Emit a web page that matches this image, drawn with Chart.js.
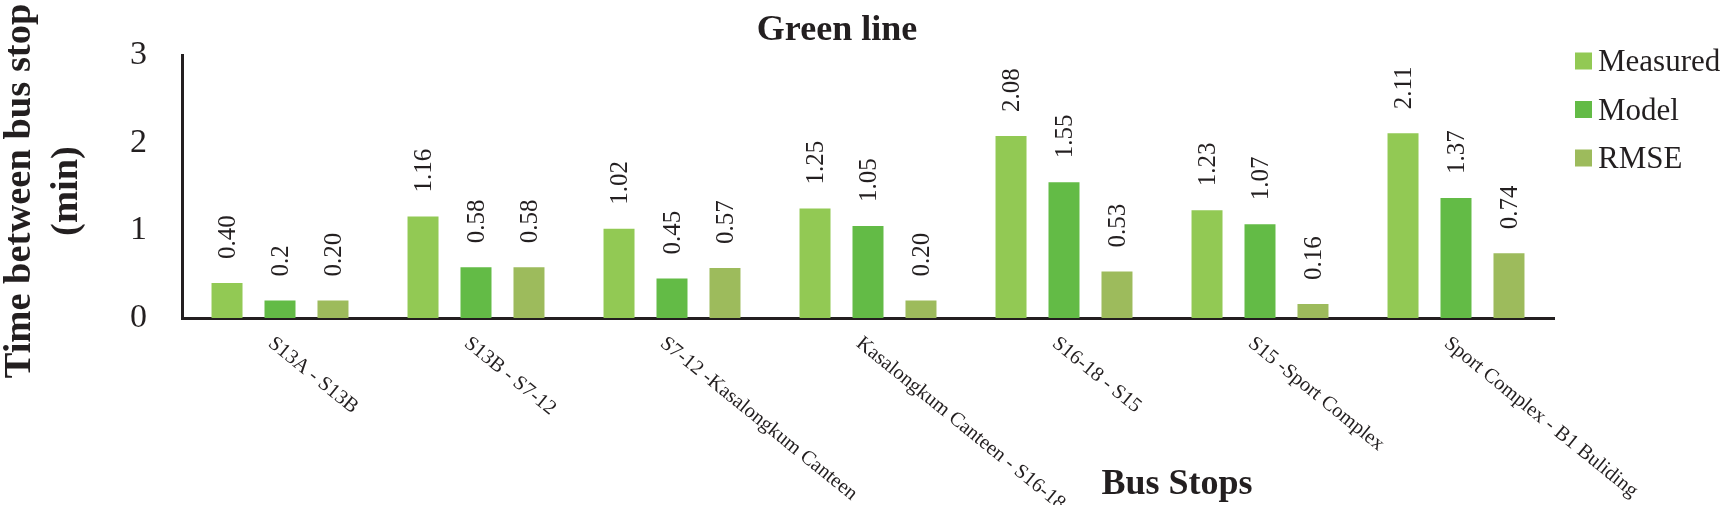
<!DOCTYPE html>
<html>
<head>
<meta charset="utf-8">
<script src="https://cdn.jsdelivr.net/npm/chart.js@4.4.0/dist/chart.umd.min.js"></script>
<style>
  body { margin: 0; background: #ffffff; }
  canvas { display: block; }
</style>
</head>
<body>
<canvas id="busChart" width="1723" height="505"></canvas>
<script>
const stops = [
    "S13A - S13B",
    "S13B - S7-12",
    "S7-12 -Kasalongkum Canteen",
    "Kasalongkum Canteen - S16-18",
    "S16-18 - S15",
    "S15 -Sport Complex",
    "Sport Complex - B1 Buliding"
];

const measured = [0.40, 1.16, 1.02, 1.25, 2.08, 1.23, 2.11];
const model = [0.2, 0.58, 0.45, 1.05, 1.55, 1.07, 1.37];
const rmse = [0.20, 0.58, 0.57, 0.20, 0.53, 0.16, 0.74];

// value labels as printed on the chart
const measuredText = ["0.40", "1.16", "1.02", "1.25", "2.08", "1.23", "2.11"];
const modelText = ["0.2", "0.58", "0.45", "1.05", "1.55", "1.07", "1.37"];
const rmseText = ["0.20", "0.58", "0.57", "0.20", "0.53", "0.16", "0.74"];

const yTicks = [0, 1, 2, 3];

const serif = '"Liberation Serif", "Times New Roman", serif';
const ink = "#231f20";

const valueTexts = [measuredText, modelText, rmseText];

const textPlugin = {
    id: "textPlugin",
    afterDraw(chart) {
        const ctx = chart.ctx;
        const xScale = chart.scales.x;

        ctx.save();
        ctx.fillStyle = ink;

        // values above bars, rotated
        ctx.font = "25px " + serif;
        ctx.textAlign = "left";
        ctx.textBaseline = "alphabetic";
        chart.data.datasets.forEach((ds, d) => {
            chart.getDatasetMeta(d).data.forEach((bar, i) => {
                ctx.save();
                ctx.translate(bar.x + 8, bar.y - 24);
                ctx.rotate(-Math.PI / 2);
                ctx.fillText(valueTexts[d][i], 0, 0);
                ctx.restore();
            });
        });

        // category labels, slanted down to the right
        ctx.font = "20.5px " + serif;
        ctx.textBaseline = "top";
        stops.forEach((label, i) => {
            const cx = xScale.getPixelForValue(i);
            ctx.save();
            ctx.translate(cx - 3, 333);
            ctx.rotate(39 * Math.PI / 180);
            ctx.fillText(label, 0, 0);
            ctx.restore();
        });

        // titles
        ctx.textAlign = "center";
        ctx.textBaseline = "middle";
        ctx.font = "bold 36px " + serif;
        ctx.fillText("Green line", 837, 31);
        ctx.fillText("Bus Stops", 1177, 485);

        ctx.font = "bold 38.5px " + serif;
        ctx.save();
        ctx.translate(20, 191);
        ctx.rotate(-Math.PI / 2);
        ctx.fillText("Time between bus stop", 0, 0);
        ctx.fillText("(min)", 0, 47);
        ctx.restore();

        // legend
        ctx.textAlign = "left";
        ctx.textBaseline = "alphabetic";
        ctx.font = "31px " + serif;
        chart.data.datasets.forEach((ds, d) => {
            const rowY = 61 + d * 48.5;
            ctx.fillStyle = ds.backgroundColor;
            ctx.fillRect(1575, rowY - 8.5, 17, 17);
            ctx.fillStyle = ink;
            ctx.fillText(ds.label, 1598, rowY + 10);
        });

        ctx.restore();
    }
};

const ctx = document.getElementById("busChart").getContext("2d");

const busChart = new Chart(ctx, {
    type: "bar",
    data: {
        labels: stops,
        datasets: [
            { label: "Measured", data: measured, backgroundColor: "#92c954" },
            { label: "Model", data: model, backgroundColor: "#63bb46" },
            { label: "RMSE", data: rmse, backgroundColor: "#9dbb5c" }
        ]
    },
    options: {
        responsive: false,
        animation: false,
        datasets: {
            bar: {
                categoryPercentage: 0.811,
                barPercentage: 0.585
            }
        },
        layout: {
            padding: { left: 0, top: 51, right: 169, bottom: 0 }
        },
        plugins: {
            legend: { display: false },
            title: { display: false },
            tooltip: { enabled: false }
        },
        scales: {
            x: {
                z: 1,
                grid: { display: false },
                border: { display: true, width: 3, color: ink },
                ticks: { display: false },
                afterFit(scale) { scale.height = 187; }
            },
            y: {
                min: 0,
                max: 3,
                grid: { display: false, drawTicks: false },
                border: { display: true, width: 3, color: ink },
                ticks: {
                    padding: 35,
                    color: ink,
                    font: { family: serif, size: 34 }
                },
                afterBuildTicks(scale) {
                    scale.ticks = yTicks.map(v => ({ value: v }));
                },
                afterFit(scale) { scale.width = 182; }
            }
        }
    },
    plugins: [textPlugin]
});
</script>
</body>
</html>
